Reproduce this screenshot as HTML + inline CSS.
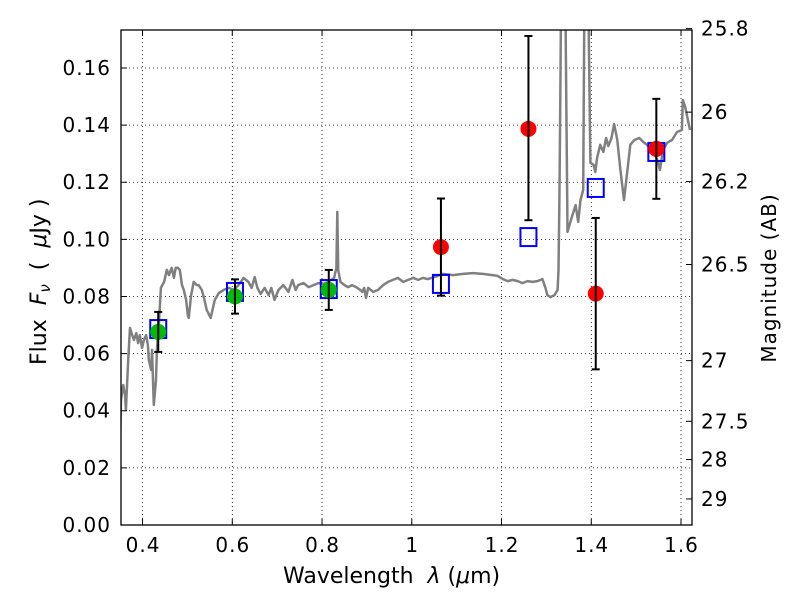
<!DOCTYPE html>
<html><head><meta charset="utf-8"><style>
body{margin:0;background:#fff}
svg{display:block;font-family:"DejaVu Sans","Liberation Sans",sans-serif}
.tk{letter-spacing:1px}
</style></head><body>
<svg id="c" width="800" height="600" xmlns="http://www.w3.org/2000/svg">
<rect width="800" height="600" fill="#fff"/>
<g id="grid"></g>
<g id="spec"></g>
<g id="marks"></g>
<g id="axes"></g>
<text x="283" y="583" font-size="22" xml:space="preserve">Wavelength  <tspan font-style="italic">λ</tspan> (<tspan font-style="italic">μ</tspan>m)</text>
<text transform="translate(46,365) rotate(-90)" font-size="22" xml:space="preserve">Flux  <tspan font-style="italic">F<tspan font-size="15" dy="4">ν</tspan></tspan><tspan dy="-4">  (  </tspan><tspan font-style="italic">μ</tspan>Jy )</text>
<text transform="translate(776,278) rotate(-90)" font-size="20" text-anchor="middle" class="tk">Magnitude (AB)</text>
</svg>
<script>
const xTicks=[0.4,0.6,0.8,1.0,1.2,1.4,1.6];
const xTickLabels=["0.4","0.6","0.8","1","1.2","1.4","1.6"];
const yTicks=[0,0.02,0.04,0.06,0.08,0.10,0.12,0.14,0.16];
const yTickLabels=["0.00","0.02","0.04","0.06","0.08","0.10","0.12","0.14","0.16"];
const magTicks=[25.8,26,26.2,26.5,27,27.5,28,29];
const magTickLabels=["25.8","26","26.2","26.5","27","27.5","28","29"];
const greenWl=[0.435,0.606,0.815];
const greenFlux=[0.0676,0.0800,0.0823];
const greenErr=[0.007,0.006,0.007];
const redWl=[1.065,1.26,1.41,1.545];
const redFlux=[0.0973,0.1387,0.0810,0.1317];
const redErrLo=[0.0170,0.0320,0.0265,0.0175];
const redErrHi=[0.0170,0.0325,0.0265,0.0175];
const modelWl=[0.435,0.606,0.815,1.065,1.26,1.41,1.545];
const modelFlux=[0.0686,0.0816,0.0826,0.0844,0.1008,0.1180,0.1306];
const specWl=[0.350,0.352,0.357,0.361,0.363,0.368,0.372,0.377,0.381,0.386,0.390,0.394,0.399,0.403,0.408,0.412,0.414,0.419,0.421,0.425,0.430,0.432,0.437,0.441,0.448,0.454,0.459,0.463,0.465,0.470,0.474,0.479,0.483,0.488,0.492,0.497,0.501,0.503,0.508,0.514,0.521,0.525,0.532,0.537,0.543,0.552,0.556,0.561,0.570,0.581,0.592,0.603,0.614,0.625,0.636,0.643,0.650,0.656,0.663,0.672,0.681,0.687,0.694,0.703,0.714,0.725,0.734,0.741,0.747,0.759,0.770,0.781,0.792,0.803,0.814,0.827,0.832,0.834,0.836,0.841,0.850,0.858,0.867,0.876,0.885,0.890,0.894,0.898,0.903,0.914,0.925,0.936,0.947,0.958,0.969,0.981,0.992,1.003,1.014,1.025,1.036,1.058,1.069,1.092,1.114,1.136,1.158,1.180,1.191,1.203,1.214,1.225,1.236,1.247,1.258,1.269,1.280,1.291,1.298,1.302,1.309,1.318,1.325,1.327,1.329,1.331,1.333,1.342,1.347,1.358,1.365,1.371,1.376,1.382,1.385,1.393,1.398,1.405,1.409,1.413,1.420,1.427,1.433,1.438,1.445,1.451,1.458,1.465,1.473,1.480,1.487,1.496,1.507,1.516,1.524,1.533,1.542,1.549,1.553,1.560,1.569,1.580,1.591,1.602,1.604,1.609,1.613,1.620];
const specFlux=[0.0298,0.0438,0.0490,0.0455,0.0403,0.0578,0.0690,0.0665,0.0648,0.0672,0.0637,0.0665,0.0620,0.0648,0.0665,0.0630,0.0578,0.0543,0.0613,0.0420,0.0508,0.0613,0.0718,0.0830,0.0851,0.0893,0.0875,0.0893,0.0900,0.0865,0.0900,0.0900,0.0893,0.0840,0.0823,0.0788,0.0732,0.0725,0.0802,0.0851,0.0840,0.0840,0.0823,0.0795,0.0753,0.0725,0.0753,0.0788,0.0812,0.0823,0.0830,0.0823,0.0840,0.0865,0.0851,0.0830,0.0868,0.0830,0.0809,0.0830,0.0805,0.0830,0.0788,0.0823,0.0840,0.0816,0.0858,0.0823,0.0840,0.0847,0.0833,0.0840,0.0847,0.0844,0.0851,0.0865,0.0900,0.1096,0.0893,0.0851,0.0840,0.0833,0.0840,0.0833,0.0823,0.0816,0.0830,0.0795,0.0830,0.0816,0.0823,0.0840,0.0851,0.0858,0.0865,0.0851,0.0858,0.0865,0.0858,0.0865,0.0861,0.0872,0.0879,0.0875,0.0879,0.0882,0.0879,0.0875,0.0872,0.0861,0.0854,0.0858,0.0854,0.0847,0.0854,0.0851,0.0854,0.0861,0.0830,0.0805,0.0798,0.0805,0.0823,0.0893,0.1138,0.1488,0.1900,0.1900,0.1026,0.1085,0.1120,0.1061,0.1138,0.1173,0.1900,0.1900,0.1268,0.1261,0.1236,0.1285,0.1331,0.1306,0.1355,0.1327,0.1355,0.1404,0.1348,0.1243,0.1138,0.1236,0.1331,0.1348,0.1355,0.1341,0.1331,0.1313,0.1296,0.1271,0.1243,0.1313,0.1338,0.1348,0.1376,0.1383,0.1488,0.1467,0.1436,0.1383];
const X0=121,X1=692,Y0=525,Y1=30,XMIN=0.352,XMAX=1.6245,YMIN=0,YMAX=0.1733;
const sx=v=>X0+(v-XMIN)/(XMAX-XMIN)*(X1-X0);
const sy=v=>Y0-(v-YMIN)/(YMAX-YMIN)*(Y0-Y1);
const magToFlux=m=>Math.pow(10,(23.9-m)/2.5);
const NS="http://www.w3.org/2000/svg";
function mk(tag,attrs,parent){const e=document.createElementNS(NS,tag);for(const k in attrs)e.setAttribute(k,attrs[k]);parent.appendChild(e);return e;}
const grid=document.getElementById('grid'),axes=document.getElementById('axes'),spec=document.getElementById('spec'),marks=document.getElementById('marks');
xTicks.forEach((t,i)=>{
  const x=sx(t);
  const g=mk('line',{x1:x,x2:x,y1:Y1,y2:Y0,stroke:'#000','stroke-width':0.8,'stroke-dasharray':'1,3'},grid);
  
  
  mk('line',{x1:x,x2:x,y1:Y0,y2:Y0-6,stroke:'#000','stroke-width':1},axes);
  mk('line',{x1:x,x2:x,y1:Y1,y2:Y1+6,stroke:'#000','stroke-width':1},axes);
  const l=mk('text',{x:x+0.5,y:Y0+27,'font-size':20,'text-anchor':'middle','class':'tk'},axes);
  l.textContent=xTickLabels[i];
  
  
});
yTicks.forEach((t,i)=>{
  const y=sy(t);
  const g=mk('line',{x1:X0,x2:X1,y1:y,y2:y,stroke:'#000','stroke-width':0.8,'stroke-dasharray':'1,3'},grid);
  
  
  mk('line',{x1:X0,x2:X0+6,y1:y,y2:y,stroke:'#000','stroke-width':1},axes);
  const l=mk('text',{x:X0-10,y:y+7,'font-size':20,'text-anchor':'end','class':'tk'},axes);
  l.textContent=yTickLabels[i];
  
  
});
magTicks.forEach((m,i)=>{
  const y=sy(magToFlux(m));
  mk('line',{x1:X1,x2:X1-6,y1:y,y2:y,stroke:'#000','stroke-width':1},axes);
  const l=mk('text',{x:X1+9,y:y+7,'font-size':20,'text-anchor':'start','class':'tk'},axes);
  l.textContent=magTickLabels[i];
  
  
});
const cp=mk('clipPath',{id:'clip'},document.getElementById('c'));
mk('rect',{x:X0,y:Y1,width:X1-X0,height:Y0-Y1},cp);
const pts=specWl.map((w,i)=>sx(w).toFixed(1)+','+sy(specFlux[i]).toFixed(1)).join(' ');
const sl=mk('polyline',{points:pts,fill:'none',stroke:'#808080','stroke-width':2.5,'stroke-linejoin':'round','clip-path':'url(#clip)'},spec);


function errbar(x,ylo,yhi){
  mk('line',{x1:x,x2:x,y1:sy(ylo),y2:sy(yhi),stroke:'#000','stroke-width':2},marks);
  mk('line',{x1:x-4,x2:x+4,y1:sy(ylo),y2:sy(ylo),stroke:'#000','stroke-width':2},marks);
  mk('line',{x1:x-4,x2:x+4,y1:sy(yhi),y2:sy(yhi),stroke:'#000','stroke-width':2},marks);
}
modelWl.forEach((w,i)=>{
  const r=mk('rect',{x:sx(w)-8,y:sy(modelFlux[i])-9,width:16,height:18,fill:'none',stroke:'#0000ff','stroke-width':2},marks);
  
  
});
greenWl.forEach((w,i)=>{
  const c=mk('circle',{cx:sx(w),cy:sy(greenFlux[i]),r:8,fill:'#00bb00'},marks);
  
  
  errbar(sx(w),greenFlux[i]-greenErr[i],greenFlux[i]+greenErr[i]);
});
redWl.forEach((w,i)=>{
  const c=mk('circle',{cx:sx(w),cy:sy(redFlux[i]),r:8,fill:'#ff0000'},marks);
  
  
  errbar(sx(w),redFlux[i]-redErrLo[i],redFlux[i]+redErrHi[i]);
});
const fr=mk('rect',{x:X0,y:Y1,width:X1-X0,height:Y0-Y1,fill:'none',stroke:'#000','stroke-width':1.3},axes);


</script>
</body></html>
